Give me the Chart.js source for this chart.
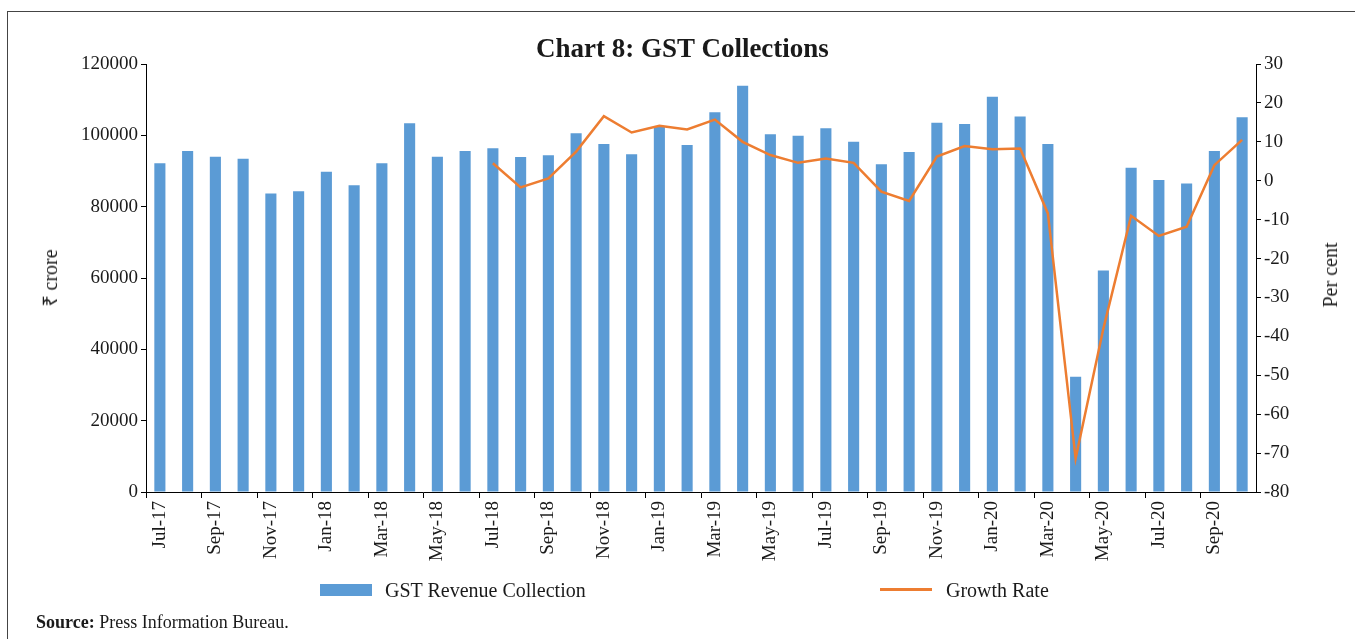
<!DOCTYPE html>
<html>
<head>
<meta charset="utf-8">
<script src="https://cdn.jsdelivr.net/npm/chart.js@4"></script>
<style>
  html,body{margin:0;padding:0;background:#fff;}
  #wrap{position:relative;width:1355px;height:639px;overflow:hidden;font-family:"Liberation Serif",serif;color:#1a1a1a;}
  #frame{position:absolute;left:7px;top:11px;width:1400px;height:700px;border:1px solid #444;box-sizing:border-box;}
  canvas{position:absolute;left:0;top:0;}
  .t{position:absolute;white-space:nowrap;}
  #title{left:5px;width:1355px;top:35px;text-align:center;font-weight:bold;font-size:27px;line-height:27px;}
  .ytitle{font-size:20px;line-height:20px;transform:translate(-50%,-50%) rotate(-90deg);}
  .leg{font-size:20px;line-height:20px;}
  #src{left:36px;top:612px;font-size:18px;line-height:20px;}
</style>
</head>
<body>
<div id="wrap">
  <div id="frame"></div>
  <canvas id="c" width="1355" height="639"></canvas>
  <div class="t" id="title">Chart 8: GST Collections</div>
  <div class="t ytitle" style="left:50px;top:278px;">₹ crore</div>
  <div class="t ytitle" style="left:1330px;top:275px;">Per cent</div>
  <div style="position:absolute;left:320px;top:584px;width:52px;height:12px;background:#5B9BD5;"></div>
  <div class="t leg" style="left:385px;top:580px;">GST Revenue Collection</div>
  <div style="position:absolute;left:880px;top:588px;width:52px;height:3px;background:#ED7D31;"></div>
  <div class="t leg" style="left:946px;top:580px;">Growth Rate</div>
  <div class="t" id="src"><b>Source:</b> Press Information Bureau.</div>
</div>
<script>
const months = ["Jul-17","Aug-17","Sep-17","Oct-17","Nov-17","Dec-17",
  "Jan-18","Feb-18","Mar-18","Apr-18","May-18","Jun-18","Jul-18","Aug-18","Sep-18","Oct-18","Nov-18","Dec-18",
  "Jan-19","Feb-19","Mar-19","Apr-19","May-19","Jun-19","Jul-19","Aug-19","Sep-19","Oct-19","Nov-19","Dec-19",
  "Jan-20","Feb-20","Mar-20","Apr-20","May-20","Jun-20","Jul-20","Aug-20","Sep-20","Oct-20"];

const gstRevenue = [92200,95600,94000,93400,83700,84300,
  89800,86000,92200,103400,94000,95600,96400,93900,94400,100600,97600,94700,
  102400,97300,106500,113900,100300,99900,102000,98200,91900,95300,103500,103200,
  110800,105300,97600,32300,62100,90900,87500,86500,95600,105100];

const growthRate = [null,null,null,null,null,null,
  null,null,null,null,null,null,4.5,-1.7,0.6,7.5,16.6,12.4,
  14.1,13.2,15.7,10.0,6.6,4.6,5.7,4.6,-2.8,-5.2,6.2,8.9,
  8.1,8.3,-8.4,-71.4,-38.0,-9.0,-14.2,-11.8,4.0,10.5];

const leftTicks = {min:0, max:120000, step:20000};
const rightTicks = {min:-80, max:30, step:10};

const tickFont = {family:"Liberation Serif", size:19};

new Chart(document.getElementById('c'), {
  data: {
    labels: months,
    datasets: [
      {type:'line', label:'Growth Rate', data:growthRate, yAxisID:'y2',
       borderColor:'#ED7D31', backgroundColor:'#ED7D31', borderWidth:2.5,
       pointRadius:0, tension:0, spanGaps:false, order:0},
      {type:'bar', label:'GST Revenue Collection', data:gstRevenue, yAxisID:'y',
       backgroundColor:'#5B9BD5', borderWidth:0,
       barPercentage:0.4, categoryPercentage:1.0, order:1}
    ]
  },
  options: {
    responsive:false,
    animation:false,
    devicePixelRatio:1,
    layout:{padding:{left:0,right:0,top:64,bottom:62}},
    plugins:{legend:{display:false}, title:{display:false}, tooltip:{enabled:false}},
    scales:{
      x:{
        offset:true,
        afterFit:(s)=>{s.height=85;},
        grid:{display:true, offset:true, drawOnChartArea:false, tickLength:6, lineWidth:1,
          color:(ctx)=> (ctx.index%2===0 ? '#000' : 'rgba(0,0,0,0)')},
        border:{display:true, color:'#000', width:1},
        ticks:{autoSkip:false, maxRotation:90, minRotation:90, padding:3, color:'#1a1a1a', font:tickFont,
          callback:function(v,i){ return i%2===0 ? this.getLabelForValue(v) : ''; }}
      },
      y:{
        position:'left', min:leftTicks.min, max:leftTicks.max,
        afterFit:(s)=>{s.width=146;},
        grid:{display:true, drawOnChartArea:false, tickLength:5, color:'#000'},
        border:{display:true, color:'#000', width:1},
        ticks:{stepSize:leftTicks.step, padding:3, color:'#1a1a1a', font:tickFont,
          callback:(v)=>String(v)}
      },
      y2:{
        position:'right', min:rightTicks.min, max:rightTicks.max,
        afterFit:(s)=>{s.width=99;},
        grid:{display:true, drawOnChartArea:false, tickLength:5, color:'#000'},
        border:{display:true, color:'#000', width:1},
        ticks:{stepSize:rightTicks.step, padding:3, color:'#1a1a1a', font:tickFont,
          callback:(v)=>String(v)}
      }
    }
  }
});
</script>
</body>
</html>
